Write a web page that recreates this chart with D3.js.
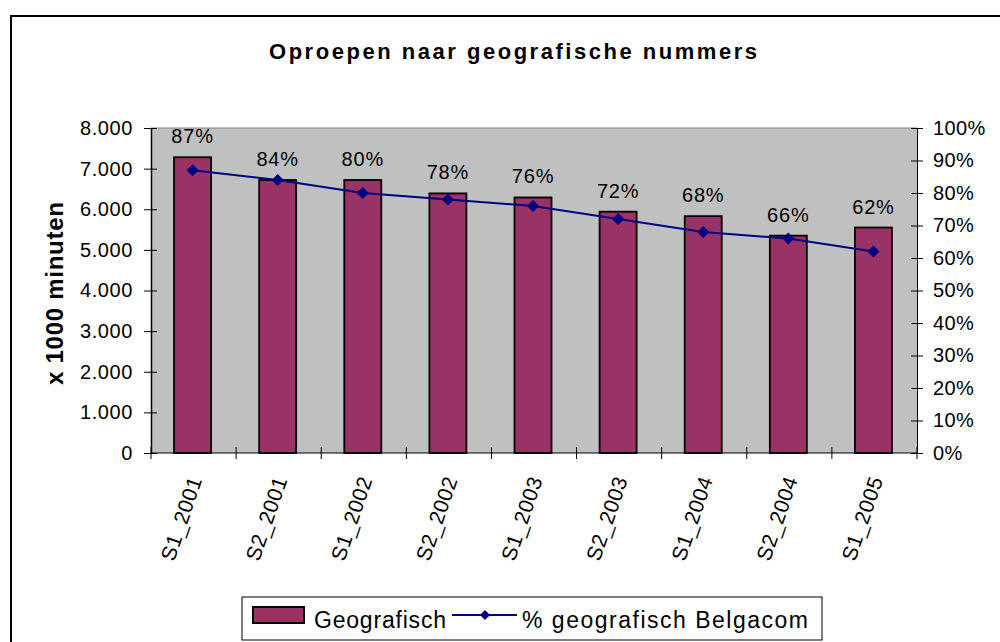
<!DOCTYPE html>
<html>
<head>
<meta charset="utf-8">
<script src="https://cdn.jsdelivr.net/npm/d3@7"></script>
<style>
  body { margin: 0; background: #fff; }
  svg text { font-family: "Liberation Sans", Arial, sans-serif; fill: #000; }
</style>
</head>
<body>
<script>
// chart data
const periods = ["S1_2001", "S2_2001", "S1_2002", "S2_2002", "S1_2003", "S2_2003", "S1_2004", "S2_2004", "S1_2005"];
const geografisch = [7280, 6720, 6720, 6390, 6290, 5940, 5830, 5350, 5550];
const belgacomShare = [0.87, 0.84, 0.80, 0.78, 0.76, 0.72, 0.68, 0.66, 0.62];
const leftTicks = [0, 1000, 2000, 3000, 4000, 5000, 6000, 7000, 8000];
const rightTicks = [0, 0.1, 0.2, 0.3, 0.4, 0.5, 0.6, 0.7, 0.8, 0.9, 1];

(function() {
    const width = 1000;
    const height = 642;
    const plot = {left: 151, right: 917, top: 128, bottom: 453};
    const barColor = "#993366";
    const lineColor = "#000080";

    // dutch number format: 8.000
    const nl = d3.formatLocale({decimal: ",", thousands: ".", grouping: [3], currency: ["€", ""]});
    const fmtThousands = nl.format(",d");
    const fmtPct = d3.format(".0%");

    let svg = d3.select("body").append("svg")
        .attr("width", width)
        .attr("height", height);

    // outer chart border (runs off the picture right and bottom)
    svg.append("rect")
        .attr("x", 11).attr("y", 16)
        .attr("width", 1000).attr("height", 700)
        .attr("fill", "#fff")
        .attr("stroke", "#000")
        .attr("stroke-width", 2);

    // title
    svg.append("text")
        .attr("x", 269).attr("y", 59)
        .attr("textLength", 488)
        .attr("lengthAdjust", "spacing")
        .style("font-size", "22px")
        .style("font-weight", "bold")
        .text("Oproepen naar geografische nummers");

    // scales
    let x = d3.scaleBand()
        .domain(periods)
        .range([plot.left, plot.right])
        .padding(0);
    let y = d3.scaleLinear()
        .domain([0, 8000])
        .range([plot.bottom, plot.top]);
    let yPct = d3.scaleLinear()
        .domain([0, 1])
        .range([plot.bottom, plot.top]);

    // plot area background
    svg.append("rect")
        .attr("x", plot.left).attr("y", plot.top)
        .attr("width", plot.right - plot.left)
        .attr("height", plot.bottom - plot.top)
        .attr("fill", "#c0c0c0");
    svg.append("line")
        .attr("x1", plot.left).attr("x2", plot.right)
        .attr("y1", plot.top).attr("y2", plot.top)
        .attr("stroke", "#808080");

    // bars (gap width 130%)
    let barW = x.bandwidth() / 2.3;
    svg.selectAll(".bar")
        .data(geografisch)
        .enter()
        .append("rect")
        .attr("class", "bar")
        .attr("x", (d, i) => x(periods[i]) + x.bandwidth() / 2 - barW / 2 - 1)
        .attr("y", d => y(d))
        .attr("width", barW)
        .attr("height", d => plot.bottom - y(d))
        .attr("fill", barColor)
        .attr("stroke", "#000")
        .attr("stroke-width", 1.8);

    // left axis
    let yAxis = d3.axisLeft(y)
        .tickValues(leftTicks)
        .tickFormat(fmtThousands)
        .tickSizeOuter(0)
        .tickSizeInner(7)
        .tickPadding(11);
    let gLeft = svg.append("g")
        .attr("transform", "translate(" + plot.left + ",0)")
        .call(yAxis);
    gLeft.selectAll(".tick line").attr("x2", -7).attr("x1", 6).attr("stroke", "#000");
    gLeft.selectAll(".tick text").attr("x", -18).style("font-size", "20px").style("letter-spacing", "0.6px");
    gLeft.select(".domain").attr("stroke", "#000").attr("stroke-width", 1.5);

    // right axis
    let yAxisR = d3.axisRight(yPct)
        .tickValues(rightTicks)
        .tickFormat(fmtPct)
        .tickSizeOuter(0)
        .tickSizeInner(6);
    let gRight = svg.append("g")
        .attr("transform", "translate(" + plot.right + ",0)")
        .call(yAxisR);
    gRight.selectAll(".tick line").attr("x1", -6).attr("x2", 6).attr("stroke", "#000");
    gRight.selectAll(".tick text").attr("x", 16).style("font-size", "20px").style("letter-spacing", "0.4px");
    gRight.select(".domain").attr("stroke", "#000");

    // bottom axis, ticks at category boundaries
    svg.append("line")
        .attr("x1", plot.left).attr("x2", plot.right)
        .attr("y1", plot.bottom).attr("y2", plot.bottom)
        .attr("stroke", "#000");
    let bounds = periods.map(p => x(p)).concat([plot.right]);
    svg.selectAll(".xtick")
        .data(bounds)
        .enter()
        .append("line")
        .attr("class", "xtick")
        .attr("x1", d => d).attr("x2", d => d)
        .attr("y1", plot.bottom - 6).attr("y2", plot.bottom + 6)
        .attr("stroke", "#000");

    svg.selectAll(".xlabel")
        .data(periods)
        .enter()
        .append("text")
        .attr("class", "xlabel")
        .attr("transform", d => "translate(" + (x(d) + x.bandwidth() / 2 + 2) + "," + (plot.bottom + 24) + ")rotate(-71)")
        .attr("text-anchor", "end")
        .attr("dy", "0.35em")
        .style("font-size", "21px")
        .style("letter-spacing", "0.5px")
        .text(d => d);

    // left axis title
    svg.append("text")
        .attr("transform", "translate(63, 385)rotate(-90)")
        .attr("textLength", 183)
        .attr("lengthAdjust", "spacing")
        .style("font-size", "24px")
        .style("font-weight", "bold")
        .text("x 1000 minuten");

    // percentage line
    let cx = (d, i) => x(periods[i]) + x.bandwidth() / 2 - 1;
    let line = d3.line()
        .x(cx)
        .y(d => yPct(d));
    svg.append("path")
        .datum(belgacomShare)
        .attr("d", line)
        .attr("fill", "none")
        .attr("stroke", lineColor)
        .attr("stroke-width", 2);

    const diamond = s => "M0," + (-s) + "L" + s + ",0L0," + s + "L" + (-s) + ",0Z";
    svg.selectAll(".marker")
        .data(belgacomShare)
        .enter()
        .append("path")
        .attr("class", "marker")
        .attr("transform", (d, i) => "translate(" + cx(d, i) + "," + yPct(d) + ")")
        .attr("d", diamond(6))
        .attr("fill", lineColor);

    // data labels above the bars
    svg.selectAll(".dlabel")
        .data(belgacomShare)
        .enter()
        .append("text")
        .attr("class", "dlabel")
        .attr("x", (d, i) => cx(d, i))
        .attr("y", (d, i) => y(geografisch[i]) - 14)
        .attr("text-anchor", "middle")
        .style("font-size", "20px")
        .style("letter-spacing", "0.8px")
        .text(d => fmtPct(d));

    // legend
    let legend = svg.append("g");
    legend.append("rect")
        .attr("x", 242).attr("y", 597)
        .attr("width", 580).attr("height", 43)
        .attr("fill", "#fff")
        .attr("stroke", "#000");
    legend.append("rect")
        .attr("x", 253).attr("y", 607)
        .attr("width", 51).attr("height", 16)
        .attr("fill", barColor)
        .attr("stroke", "#000")
        .attr("stroke-width", 2);
    legend.append("text")
        .attr("x", 314).attr("y", 628)
        .attr("textLength", 132)
        .attr("lengthAdjust", "spacing")
        .style("font-size", "23px")
        .text("Geografisch");
    legend.append("line")
        .attr("x1", 452).attr("x2", 517)
        .attr("y1", 615).attr("y2", 615)
        .attr("stroke", lineColor)
        .attr("stroke-width", 2);
    legend.append("path")
        .attr("transform", "translate(485,615)")
        .attr("d", diamond(5))
        .attr("fill", lineColor);
    legend.append("text")
        .attr("x", 522).attr("y", 628)
        .attr("textLength", 286)
        .attr("lengthAdjust", "spacing")
        .style("font-size", "23px")
        .text("% geografisch Belgacom");
})();
</script>
</body>
</html>
